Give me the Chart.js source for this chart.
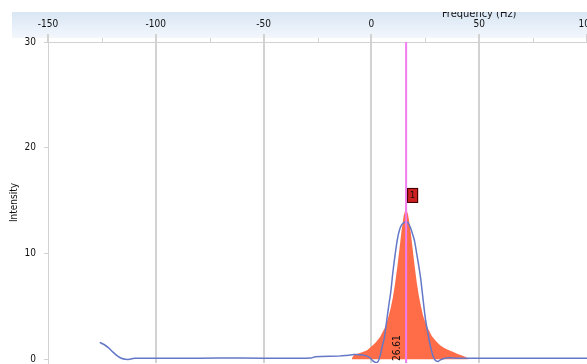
<!DOCTYPE html>
<html>
<head>
<meta charset="utf-8">
<script src="https://cdn.jsdelivr.net/npm/chart.js@4.4.0/dist/chart.umd.min.js"></script>
<style>
  html, body { margin: 0; padding: 0; background: #fff; }
  #wrap { width: 587px; height: 364px; }
</style>
</head>
<body>
<div id="wrap"><canvas id="spectrumChart"></canvas></div>
<script>
// Measured spectrum (blue line)
const measuredFreq = [-126, -124, -122, -120, -118, -116, -114, -112, -110, -100, -80, -60, -40, -28, -26, -15, -12, -8, -4, -1,
  1, 2, 3, 4, 5, 6, 7, 8, 9, 10, 11, 12, 13, 14, 15, 16, 17, 18, 19, 20,
  21, 22, 23, 24, 25, 26, 27, 28, 29, 30, 31, 32, 34, 36, 40, 50, 70, 100];
const measuredIntensity = [1.6, 1.4, 1.1, 0.7, 0.35, 0.1, 0.0, 0.0, 0.1, 0.1, 0.1, 0.12, 0.1, 0.12, 0.25, 0.3, 0.35, 0.45, 0.4, 0.2,
  -0.2, -0.3, -0.25, 0.3, 1.2, 2.0, 3.5, 5.0, 6.4, 8.3, 9.9, 11.3, 12.2, 12.7, 12.9, 13.0, 12.9, 12.5, 11.9, 11.2,
  10.0, 8.8, 7.4, 5.6, 3.9, 2.7, 1.6, 0.7, 0.1, -0.15, -0.2, -0.05, 0.1, 0.15, 0.1, 0.1, 0.1, 0.1];

// Fitted peak (orange area)
const fitFreq = [-9, -8, -6, -4, -2, 0, 2, 4, 6, 7, 8, 9, 10, 11, 12, 13, 14, 15, 16, 17,
  18, 19, 20, 21, 22, 23, 24, 25, 26, 28, 30, 32, 34, 36, 38, 40, 42, 44, 45];
const fitIntensity = [0.1, 0.45, 0.55, 0.7, 0.85, 1.2, 1.6, 2.1, 2.9, 3.4, 4.1, 4.9, 5.9, 7.2, 8.7, 10.4, 12.2, 13.6, 14.3, 13.7,
  12.4, 10.7, 8.9, 7.3, 6.0, 5.0, 4.1, 3.5, 3.0, 2.2, 1.7, 1.3, 1.05, 0.85, 0.7, 0.5, 0.35, 0.2, 0.0];

// Peak marker
const peakFreq = 16.1;
const peakLabel = '26.61';
const peakNumber = '1';
const peakMarkerY = 16.2;

// Axis ticks
const xTicks = [-150, -125, -100, -75, -50, -25, 0, 25, 50, 75, 100];
const xMajorTicks = [-150, -100, -50, 0, 50, 100];
const yTicks = [0, 10, 20, 30];

const fontFamily = "'DejaVu Sans Condensed', 'Liberation Sans', sans-serif";
const gridGray = '#d2d2d2';

function toPoints(xs, ys) {
  return xs.map((x, i) => ({ x: x, y: ys[i] }));
}

// Header band, title, marker line, peak label
const decorPlugin = {
  id: 'decor',
  beforeDraw(chart) {
    const ctx = chart.ctx;
    const grad = ctx.createLinearGradient(0, 12, 0, 38);
    grad.addColorStop(0, '#d9e6f4');
    grad.addColorStop(1, '#f3f7fc');
    ctx.save();
    ctx.fillStyle = grad;
    ctx.fillRect(12, 12, chart.width - 12, 26);
    ctx.restore();
  },
  afterDraw(chart) {
    const ctx = chart.ctx;
    const xs = chart.scales.x;
    const ys = chart.scales.y;
    const area = chart.chartArea;

    // minor ticks on the top axis
    ctx.save();
    ctx.strokeStyle = gridGray;
    ctx.lineWidth = 1;
    xTicks.filter(v => !xMajorTicks.includes(v)).forEach(v => {
      const px = Math.round(xs.getPixelForValue(v)) + 0.5;
      ctx.beginPath();
      ctx.moveTo(px, area.top - 4);
      ctx.lineTo(px, area.top);
      ctx.stroke();
    });
    ctx.restore();

    // axis title, clipped by the header
    ctx.save();
    ctx.beginPath();
    ctx.rect(0, 12, chart.width, 30);
    ctx.clip();
    ctx.fillStyle = '#111';
    ctx.font = '11px ' + fontFamily;
    ctx.textAlign = 'center';
    ctx.textBaseline = 'alphabetic';
    ctx.fillText('Frequency (Hz)', xs.getPixelForValue(50), 17);
    ctx.restore();

    // peak marker line
    const lx = xs.getPixelForValue(peakFreq);
    ctx.save();
    ctx.strokeStyle = '#f07cf0';
    ctx.lineWidth = 2;
    ctx.beginPath();
    ctx.moveTo(lx, area.top);
    ctx.lineTo(lx, area.bottom);
    ctx.stroke();

    // rotated frequency label
    ctx.translate(lx - 4, area.bottom - 2);
    ctx.rotate(-Math.PI / 2);
    ctx.fillStyle = '#111';
    ctx.font = '10px ' + fontFamily;
    ctx.textAlign = 'left';
    ctx.textBaseline = 'bottom';
    ctx.fillText(peakLabel, 0, 0);
    ctx.restore();

    // numbered box
    const by = ys.getPixelForValue(peakMarkerY);
    ctx.save();
    ctx.fillStyle = '#cc1f1f';
    ctx.strokeStyle = '#3a0000';
    ctx.lineWidth = 1;
    ctx.fillRect(lx + 1, by, 11, 15);
    ctx.strokeRect(lx + 1.5, by + 0.5, 10, 14);
    ctx.fillStyle = '#111';
    ctx.font = '9px ' + fontFamily;
    ctx.textAlign = 'center';
    ctx.textBaseline = 'middle';
    ctx.fillText(peakNumber, lx + 6.5, by + 8);
    ctx.restore();
  }
};

const ctx = document.getElementById('spectrumChart');
new Chart(ctx, {
  type: 'line',
  data: {
    datasets: [
      {
        label: 'Spectrum',
        data: toPoints(measuredFreq, measuredIntensity),
        borderColor: '#6478c8',
        borderWidth: 1.5,
        pointRadius: 0,
        tension: 0.25,
        fill: false,
        order: 0
      },
      {
        label: 'Fit',
        data: toPoints(fitFreq, fitIntensity),
        borderColor: 'rgba(0,0,0,0)',
        borderWidth: 0,
        backgroundColor: '#ff6c48',
        pointRadius: 0,
        tension: 0,
        fill: 'origin',
        order: 1
      }
    ]
  },
  options: {
    responsive: true,
    maintainAspectRatio: false,
    animation: false,
    layout: { padding: { top: 0, left: 0, right: 0, bottom: 1 } },
    plugins: {
      legend: { display: false },
      tooltip: { enabled: false }
    },
    scales: {
      x: {
        type: 'linear',
        position: 'top',
        min: -150,
        max: 100,
        afterBuildTicks: (scale) => {
          scale.ticks = xTicks.map(v => ({ value: v }));
        },
        afterFit: (scale) => {
          scale.height = 42;
          scale.paddingLeft = 0;
          scale.paddingRight = 0;
        },
        border: { display: true, color: gridGray, width: 1 },
        grid: {
          drawOnChartArea: true,
          color: (c) => (xMajorTicks.includes(c.tick && c.tick.value) && c.tick.value > -150 && c.tick.value < 100) ? gridGray : 'rgba(0,0,0,0)',
          lineWidth: 2,
          tickLength: 8,
          tickColor: (c) => xMajorTicks.includes(c.tick && c.tick.value) ? gridGray : 'rgba(0,0,0,0)'
        },
        ticks: {
          padding: 4,
          maxRotation: 0,
          autoSkip: false,
          color: '#111',
          font: { family: fontFamily, size: 10 },
          callback: (v) => xMajorTicks.includes(v) ? String(v) : ''
        }
      },
      y: {
        type: 'linear',
        min: -0.35,
        max: 30,
        afterBuildTicks: (scale) => {
          scale.ticks = yTicks.map(v => ({ value: v }));
        },
        afterFit: (scale) => {
          scale.width = 48;
          scale.paddingTop = 0;
          scale.paddingBottom = 0;
        },
        border: { display: true, color: gridGray, width: 1 },
        grid: {
          drawOnChartArea: false,
          tickLength: 4,
          tickColor: gridGray
        },
        title: {
          display: true,
          text: 'Intensity',
          color: '#111',
          font: { family: fontFamily, size: 10 },
          padding: { top: 8, bottom: 0 }
        },
        ticks: {
          padding: 8,
          color: '#111',
          font: { family: fontFamily, size: 10 }
        }
      }
    }
  },
  plugins: [decorPlugin]
});
</script>
</body>
</html>
